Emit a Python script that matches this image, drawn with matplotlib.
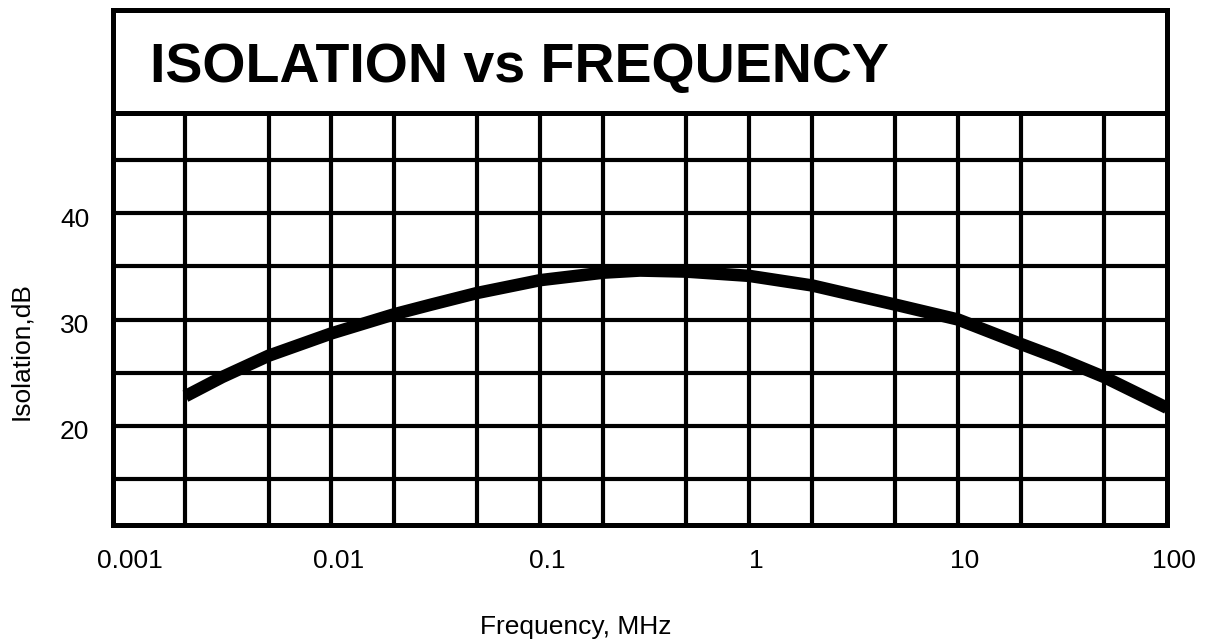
import matplotlib
matplotlib.use('Agg')
import matplotlib.pyplot as plt
from matplotlib.transforms import ScaledTranslation

plt.rcParams['font.family'] = ['Liberation Sans', 'DejaVu Sans']

# isolation curve
freq_mhz = [0.002, 0.003, 0.005, 0.01, 0.02, 0.03, 0.05, 0.1, 0.2, 0.3, 0.5,
            1, 2, 3, 5, 10, 20, 30, 50, 100]
isolation_db = [22.8, 24.6, 26.6, 28.7, 30.5, 31.4, 32.5, 33.7, 34.4, 34.6, 34.5,
                34.1, 33.2, 32.4, 31.4, 30.0, 27.7, 26.4, 24.6, 21.7]

x_ticks = [0.001, 0.01, 0.1, 1, 10, 100]
x_labels = ['0.001', '0.01', '0.1', '1', '10', '100']
y_ticks = [20, 30, 40]
x_grid = [0.002, 0.005, 0.01, 0.02, 0.05, 0.1, 0.2, 0.5, 1, 2, 5, 10, 20, 50]
y_grid = [15, 20, 25, 30, 35, 40, 45]

W, H = 1205, 644
fig = plt.figure(figsize=(W / 100, H / 100), dpi=100)
ax = fig.add_axes([113 / W, 1 - 525 / H, (1167 - 113) / W, (525 - 113) / H])
tax = fig.add_axes([113 / W, 1 - 113 / H, (1167 - 113) / W, (113 - 10) / H])

ax.set_xscale('log')
ax.set_xlim(0.0009, 100)
ax.set_ylim(10.7, 49.4)

for gx in x_grid:
    ax.axvline(gx, color='black', lw=3.0, zorder=1)
for gy in y_grid:
    ax.axhline(gy, color='black', lw=3.0, zorder=1)

ax.plot(freq_mhz, isolation_db, color='black', lw=9, solid_capstyle='butt',
        solid_joinstyle='round', zorder=3)

ax.set_xticks(x_ticks)
ax.set_xticklabels(x_labels)
ax.minorticks_off()
ax.set_yticks(y_ticks)
ax.tick_params(length=0, labelsize=19)
ax.tick_params(axis='x', pad=17)
ax.tick_params(axis='y', pad=17)
for lab in ax.get_xticklabels():
    lab.set_transform(lab.get_transform() + ScaledTranslation(0.07, 0, fig.dpi_scale_trans))
for lab in ax.get_yticklabels():
    lab.set_transform(lab.get_transform() + ScaledTranslation(0, -0.04, fig.dpi_scale_trans))

for sp in ax.spines.values():
    sp.set_linewidth(3.6)
    sp.set_zorder(4)

tax.set_xticks([])
tax.set_yticks([])
for sp in tax.spines.values():
    sp.set_linewidth(3.6)
tax.text((150 - 113) / (1167 - 113), 0.44, 'ISOLATION vs FREQUENCY', transform=tax.transAxes,
         fontsize=40, fontweight='bold', ha='left', va='center')

fig.text(576 / W, 1 - 627 / H, 'Frequency, MHz', fontsize=19, ha='center', va='center')
fig.text(21 / W, 1 - 351 / H, 'Isolation,dB', fontsize=19, ha='center', va='center', rotation=90)

fig.savefig('out.png', dpi=100, facecolor='white')
